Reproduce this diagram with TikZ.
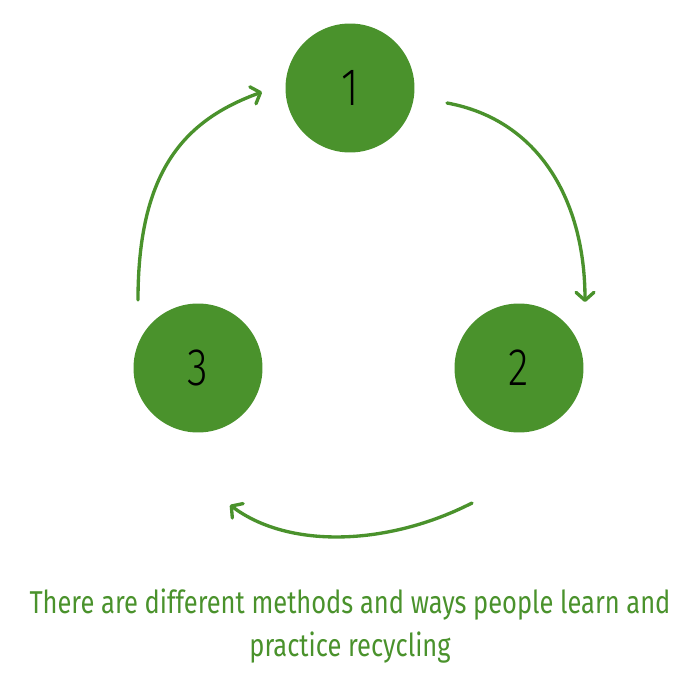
\documentclass[tikz,border=0pt]{standalone}
\usepackage{fontspec}
\setmainfont{Fira Sans}[FakeStretch=0.805]
\newfontfamily\cifrafont{Fira Sans}[UprightFont={* Light}, FakeStretch=0.8]
\usetikzlibrary{arrows.meta,calc}
\definecolor{HojaVerde}{RGB}{74,146,44}
\tikzset{
  pasobox/.style={circle, fill=HojaVerde, draw=none, minimum size=2.58cm,
    inner sep=0pt, text=black, font=\cifrafont\fontsize{30}{30}\selectfont},
  cicloarr/.style={-{Straight Barb[length=1.6mm, width=3.6mm, round]},
    line width=1.9pt, HojaVerde, line cap=round},
  notabox/.style={align=center, text=HojaVerde, font=\fontsize{18}{24}\selectfont},
}
\begin{document}
\begin{tikzpicture}[x=0.02cm, y=-0.02cm]
  \useasboundingbox (0,0) rectangle (700,700);
  % circulos del ciclo
  \node[pasobox] (uno) at (350,88) {1};
  \node[pasobox] (dos) at (519,368) {2};
  \node[pasobox] (tres) at (198,368) {3};

  % extremos de las flechas
  \coordinate (f1a) at ($(uno)+(97,15)$);
  \coordinate (f1b) at ($(dos)+(66,-66)$);
  \coordinate (f2a) at ($(dos)+(-47,135)$);
  \coordinate (f2b) at ($(tres)+(32,137)$);
  \coordinate (f3a) at ($(tres)+(-60,-68)$);
  \coordinate (f3b) at ($(uno)+(-88,4)$);

  \draw[cicloarr] (f1a) .. controls +(93,17) and +(0,-100) .. (f1b);
  \draw[cicloarr] (f2a) .. controls +(-82,42) and +(60,45) .. (f2b);
  \draw[cicloarr] (f3a) .. controls +(0,-130) and +(-77,28) .. (f3b);

  \node[notabox] (nota) at (350,626)
    {There are different methods and ways people learn and\\ practice recycling};
\end{tikzpicture}
\end{document}
